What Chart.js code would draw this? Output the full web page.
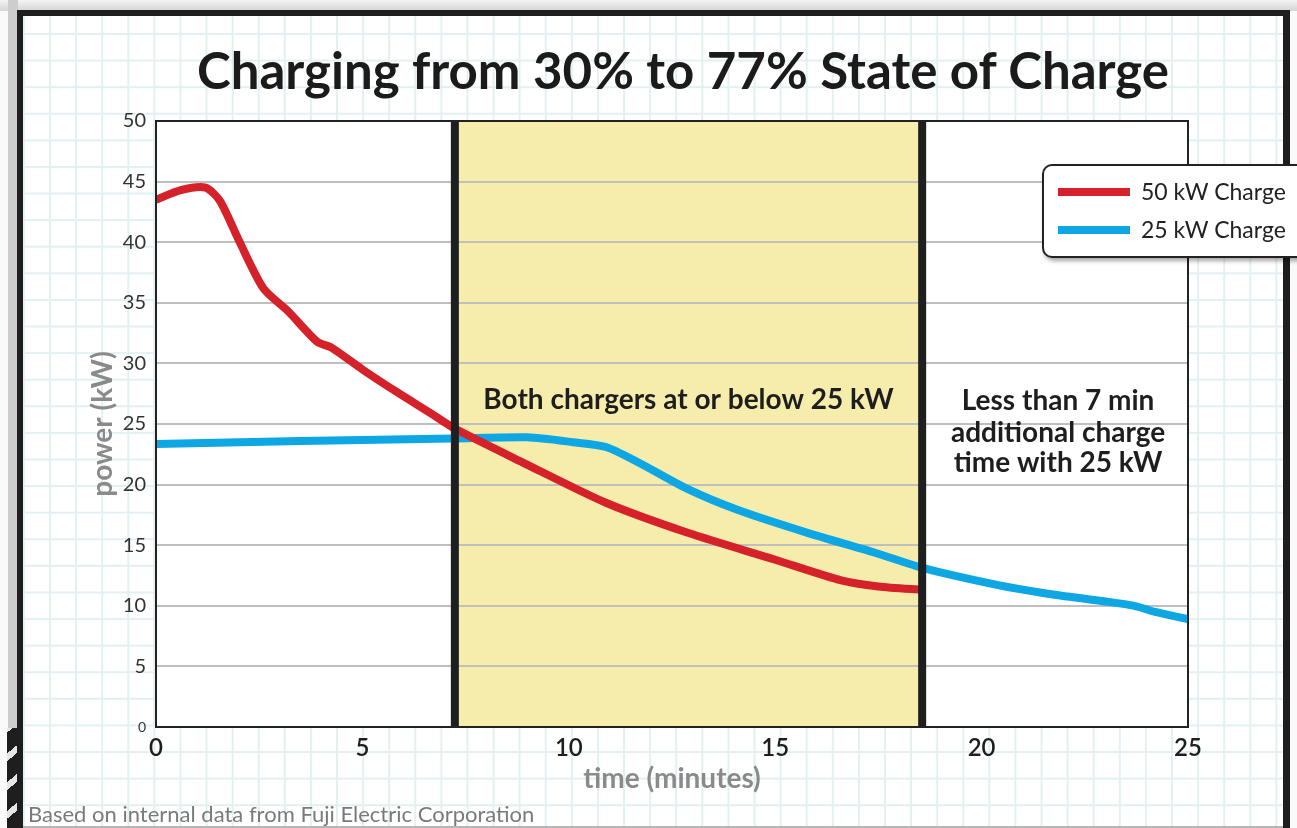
<!DOCTYPE html>
<html><head><meta charset="utf-8">
<script src="https://cdn.jsdelivr.net/npm/chart.js@4.4.1/dist/chart.umd.min.js"></script>
<style>
html,body{margin:0;padding:0;width:1297px;height:828px;overflow:hidden;background:#fafafa;font-family:Lato,"Open Sans",sans-serif;}
#shadowTop{position:absolute;left:0;top:0;width:1297px;height:11px;background:linear-gradient(#f4f4f4,#d4d4d4);}
#shadowLeft{position:absolute;left:8px;top:0;width:10px;height:828px;background:#cdcdcd;}
#slashes{position:absolute;left:7px;top:728px;width:14px;height:100px;background:repeating-linear-gradient(-40deg,#1e1e1e 0 16px,#e6e6e6 16px 22px);}
#frame{position:absolute;left:17px;top:10px;width:1260px;height:830px;border:6px solid #1e1e1e;border-right-width:7px;border-bottom:none;
 background-color:#fff;
 background-image:linear-gradient(to right,#e3f0f2 1.5px,transparent 1.5px),linear-gradient(to bottom,#e3f0f2 1.5px,transparent 1.5px);
 background-size:26.1px 26.6px;background-position:26px 17px;}
#bottomLine{position:absolute;left:23px;top:826px;width:1260px;height:2px;background:#b5b5b5;}
#chart{position:absolute;left:0;top:0;}
#title{position:absolute;left:183px;width:1000px;top:40px;text-align:center;font:700 51px Lato,sans-serif;color:#1b1b1b;line-height:60px;white-space:nowrap;}
#footer{position:absolute;left:28px;top:800px;font:400 22px Lato,sans-serif;color:#7a7a7a;white-space:nowrap;line-height:28px;}
#legend{position:absolute;left:1042px;top:164px;width:300px;height:90px;background:#fff;border:2px solid #222;border-radius:10px 0 0 10px;box-shadow:2px 3px 4px rgba(0,0,0,0.35);}
.li{position:absolute;left:14px;height:30px;width:300px;}
.li .sw{position:absolute;left:0;top:11px;width:72px;height:8px;}
.li .tx{position:absolute;left:83px;top:0;line-height:30px;font:400 23px Lato,sans-serif;color:#222;white-space:nowrap;}
</style></head>
<body>
<div id="shadowTop"></div>
<div id="shadowLeft"></div>
<div id="slashes"></div>
<div id="frame"></div>
<div id="bottomLine"></div>
<canvas id="chart" width="1297" height="828"></canvas>
<div id="title">Charging from 30% to 77% State of Charge</div>
<div id="footer">Based on internal data from Fuji Electric Corporation</div>
<div id="legend">
  <div class="li" style="top:11px"><div class="sw" style="background:#d4212a"></div><div class="tx">50 kW Charge</div></div>
  <div class="li" style="top:49px"><div class="sw" style="background:#0fa6e4"></div><div class="tx">25 kW Charge</div></div>
</div>
<script>
// ---- data ----
const seriesNames = ["50 kW Charge", "25 kW Charge"];
const time50 = [0, 0.6, 1.2, 1.55, 2.0, 2.6, 3.2, 3.9, 4.25, 5.0, 5.85, 6.65, 7.25, 8.9, 10.9, 12.9, 15.0, 16.6, 17.5, 18.6];
const power50 = [43.5, 44.3, 44.5, 43.4, 40.2, 36.2, 34.3, 31.8, 31.3, 29.5, 27.6, 25.9, 24.6, 21.8, 18.5, 16.0, 13.8, 12.1, 11.6, 11.3];
const time25 = [0, 3.5, 7.2, 9.0, 10.1, 10.9, 11.7, 12.9, 14.1, 15.8, 17.4, 18.6, 20.4, 21.6, 22.9, 23.7, 24.2, 25];
const power25 = [23.35, 23.6, 23.8, 23.9, 23.5, 23.1, 21.8, 19.6, 17.9, 16.0, 14.4, 13.1, 11.7, 11.0, 10.4, 10.0, 9.5, 8.9];
const xTicks = [0, 5, 10, 15, 20, 25];
const yTicks = [0, 5, 10, 15, 20, 25, 30, 35, 40, 45, 50];
const bandRange = [7.24, 18.56];
const bandLabel = "Both chargers at or below 25 kW";
const noteLines = ["Less than 7 min", "additional charge", "time with 25 kW"];
const xTitle = "time (minutes)";
const yTitle = "power (kW)";

const toPts = (xs, ys) => xs.map((x, i) => ({x: x, y: ys[i]}));

const bandPlugin = {
  id: 'band',
  beforeDraw(chart) {
    const {ctx, chartArea: a, scales: {x}} = chart;
    ctx.save();
    ctx.fillStyle = '#ffffff';
    ctx.fillRect(a.left, a.top, a.right - a.left, a.bottom - a.top);
    ctx.fillStyle = '#f6edac';
    const x0 = x.getPixelForValue(bandRange[0]), x1 = x.getPixelForValue(bandRange[1]);
    ctx.fillRect(x0, a.top, x1 - x0, a.bottom - a.top);
    ctx.restore();
  },
  afterDatasetsDraw(chart) {
    const {ctx, chartArea: a, scales: {x, y}} = chart;
    ctx.save();
    ctx.strokeStyle = '#1f1f1f';
    ctx.lineWidth = 8;
    bandRange.forEach(v => {
      const px = x.getPixelForValue(v);
      ctx.beginPath(); ctx.moveTo(px, a.top); ctx.lineTo(px, a.bottom); ctx.stroke();
    });
    ctx.lineWidth = 2;
    ctx.strokeStyle = '#222';
    ctx.strokeRect(a.left, a.top, a.right - a.left, a.bottom - a.top);
    // annotation texts
    ctx.fillStyle = '#1e1e1e';
    ctx.textAlign = 'center';
    ctx.textBaseline = 'middle';
    ctx.font = 'bold 28px Lato, sans-serif';
    ctx.fillText(bandLabel, (x.getPixelForValue(bandRange[0]) + x.getPixelForValue(bandRange[1])) / 2, y.getPixelForValue(27));
    const cx = (x.getPixelForValue(bandRange[1]) + x.getPixelForValue(25)) / 2 + 3;
    const lineYs = [26.9, 24.3, 21.8];
    noteLines.forEach((t, i) => ctx.fillText(t, cx, y.getPixelForValue(lineYs[i])));
    ctx.restore();
  }
};

new Chart(document.getElementById('chart'), {
  type: 'line',
  data: {
    datasets: [
      {label: seriesNames[0], data: toPts(time50, power50), borderColor: '#d4212a', borderWidth: 8, pointRadius: 0, tension: 0.25, fill: false, borderCapStyle: 'butt', borderJoinStyle: 'round'},
      {label: seriesNames[1], data: toPts(time25, power25), borderColor: '#0fa6e4', borderWidth: 8, pointRadius: 0, tension: 0.25, fill: false, borderCapStyle: 'butt', borderJoinStyle: 'round'}
    ]
  },
  options: {
    responsive: false,
    animation: false,
    events: [],
    layout: {padding: {left: 0, right: 109, top: 121, bottom: 0}},
    plugins: {legend: {display: false}, title: {display: false}, tooltip: {enabled: false}},
    scales: {
      x: {
        type: 'linear', min: 0, max: 25,
        afterBuildTicks: s => { s.ticks = xTicks.map(v => ({value: v})); },
        afterFit: s => { s.height = 101; },
        grid: {display: false, drawTicks: false},
        border: {display: false},
        ticks: {padding: 7, color: '#1e1e1e', font: {family: 'Lato', size: 24, weight: '600'}, maxRotation: 0},
        title: {display: true, text: xTitle, color: '#8a8a8a', font: {family: 'Lato', size: 28, weight: 'bold'}, padding: {top: 0, bottom: 32}}
      },
      y: {
        type: 'linear', min: 0, max: 50,
        afterBuildTicks: s => { s.ticks = yTicks.map(v => ({value: v})); },
        afterFit: s => { s.width = 156; },
        grid: {drawTicks: false, lineWidth: 2, color: c => (c.tick && (c.tick.value === 0 || c.tick.value === 50)) ? 'rgba(0,0,0,0)' : '#bfbfbf'},
        border: {display: false},
        ticks: {padding: 10, color: '#333', font: c => ({family: 'Lato', size: (c.tick && c.tick.value === 0) ? 14 : 20})},
        title: {display: true, text: yTitle, color: '#8a8a8a', font: {family: 'Lato', size: 28, weight: 'bold'}, padding: {top: 86, bottom: 0}}
      }
    }
  },
  plugins: [bandPlugin]
});
</script>
</body></html>
